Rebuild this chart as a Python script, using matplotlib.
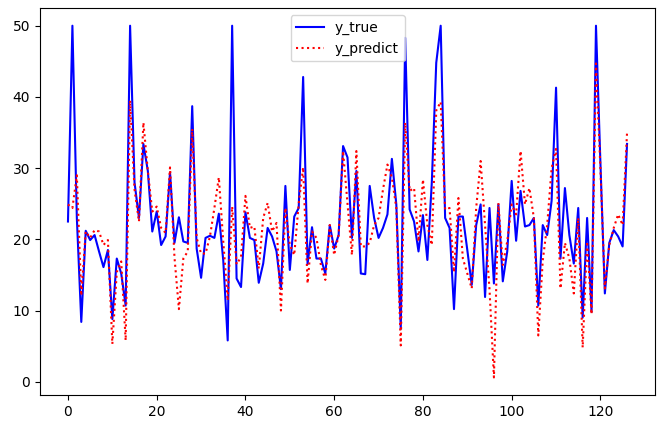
import numpy as np
import matplotlib
matplotlib.use("Agg")
from matplotlib import pyplot as plt

# values
y_true = [22.5, 50.0, 23.0, 8.4, 21.2, 19.9, 20.6, 18.3, 16.1, 18.5,
          8.8, 17.3, 15.2, 10.7, 50.0, 28.0, 23.0, 33.4, 29.6, 21.1,
          23.9, 19.2, 20.4, 29.4, 19.5, 23.1, 19.7, 19.5, 38.7, 18.7,
          14.6, 20.2, 20.5, 20.2, 23.6, 17.0, 5.8, 50.0, 14.5, 13.3,
          23.8, 20.2, 19.9, 13.9, 16.6, 21.6, 20.4, 18.3, 13.0, 27.5,
          15.7, 23.2, 24.4, 42.8, 16.5, 21.7, 17.3, 17.3, 15.2, 22.0,
          18.7, 20.6, 33.1, 31.5, 20.2, 29.6, 15.2, 15.1, 27.5, 23.0,
          20.2, 21.6, 23.5, 31.3, 24.9, 7.4, 48.3, 24.2, 22.5, 18.3,
          23.4, 17.1, 28.0, 44.8, 50.0, 23.0, 21.6, 10.2, 23.2, 23.2,
          18.5, 13.6, 22.0, 24.9, 11.9, 24.4, 13.8, 24.9, 14.1, 18.3,
          28.2, 19.8, 26.8, 21.8, 22.0, 23.0, 10.7, 22.0, 20.6, 25.4,
          41.3, 17.3, 27.2, 20.6, 16.6, 24.4, 9.0, 23.0, 9.8, 50.0,
          30.7, 12.4, 19.5, 21.3, 20.4, 19.0, 33.4]

y_predict = [24.9, 24.4, 29.0, 12.1, 21.1, 20.2, 21.3, 21.1, 19.2, 19.9,
             5.3, 15.4, 16.9, 5.8, 39.5, 27.0, 22.5, 36.4, 29.6, 23.9,
             24.6, 21.6, 20.9, 30.1, 17.5, 10.2, 17.3, 18.3, 35.5, 20.2,
             18.0, 18.0, 20.4, 24.4, 28.7, 19.7, 11.4, 24.6, 16.5, 17.5,
             26.1, 21.6, 21.8, 15.9, 23.0, 25.1, 21.1, 22.3, 10.0, 24.4,
             19.2, 17.8, 25.0, 30.1, 13.8, 21.1, 20.2, 16.4, 14.3, 22.0,
             17.8, 20.6, 32.4, 25.0, 17.8, 32.4, 19.0, 19.0, 19.5, 22.0,
             23.0, 27.0, 30.5, 28.7, 24.4, 5.1, 36.4, 26.8, 27.2, 19.7,
             28.4, 22.0, 19.2, 38.1, 39.3, 24.2, 24.4, 15.4, 25.8, 17.3,
             15.2, 13.1, 24.4, 31.0, 22.0, 13.0, 0.6, 25.1, 16.4, 19.7,
             24.9, 23.5, 32.4, 24.9, 27.2, 23.0, 6.5, 17.0, 22.0, 30.0,
             32.7, 13.1, 19.5, 17.3, 12.4, 23.0, 4.8, 19.7, 9.5, 44.7,
             30.0, 13.1, 19.2, 21.6, 23.5, 22.0, 35.0]

x = np.arange(len(y_true))

fig = plt.figure(figsize=(6.67, 4.28), dpi=100)
fig.subplots_adjust(left=0.06, right=0.982, top=0.981, bottom=0.077)
plt.plot(x, y_true, color='blue', label='y_true')
plt.plot(x, y_predict, color='red', linestyle=':', label='y_predict')
plt.legend(loc='upper center')
fig.savefig('out.png', dpi=100)
